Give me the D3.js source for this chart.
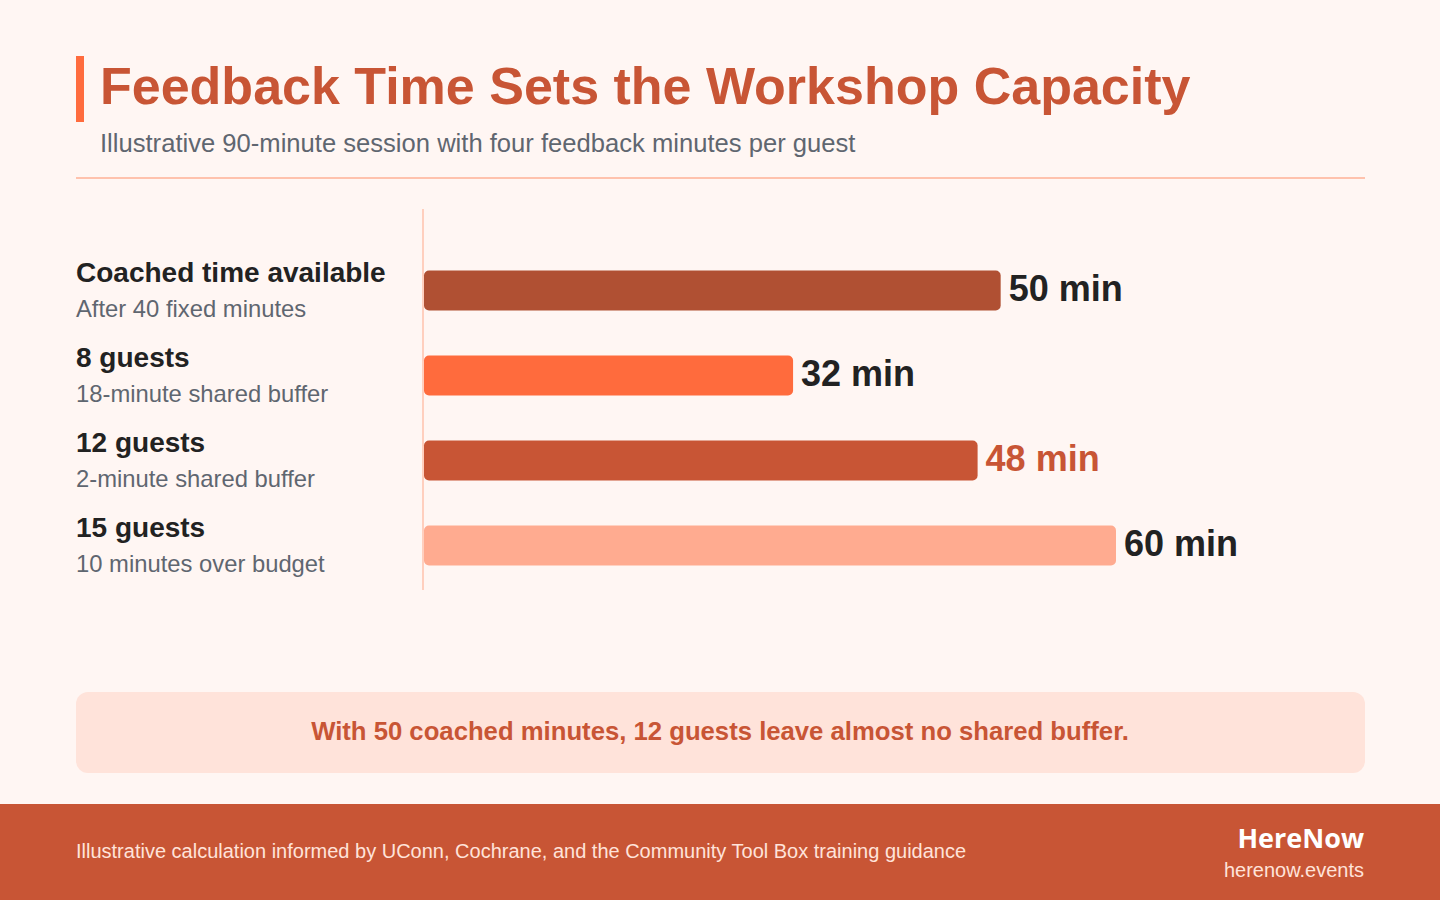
<!DOCTYPE html>
<html>
<head>
<meta charset="utf-8">
<script src="https://cdn.jsdelivr.net/npm/d3@7"></script>
<style>
  body { margin: 0; background: #fff6f3; }
  svg { display: block; font-family: "Liberation Sans", Arial, sans-serif; }
</style>
</head>
<body>
<svg id="chart" width="1440" height="900"></svg>
<script>
// ---------- data ----------
const labels = ["Coached time available", "8 guests", "12 guests", "15 guests"];
const sublabels = ["After 40 fixed minutes", "18-minute shared buffer", "2-minute shared buffer", "10 minutes over budget"];
const minutes = [50, 32, 48, 60];
const barColors = ["#b05033", "#ff6b3d", "#c85535", "#ffab90"];
const valueColors = ["#222222", "#222222", "#c85535", "#222222"];

const svg = d3.select("#chart");

svg.append("rect").attr("width", 1440).attr("height", 900).attr("fill", "#fff6f3");

// ---------- header ----------
svg.append("rect").attr("x", 76).attr("y", 56).attr("width", 8).attr("height", 66).attr("fill", "#ff6b3d");
svg.append("text").attr("x", 100).attr("y", 104)
  .attr("font-size", 52).attr("font-weight", 700).attr("fill", "#c85535")
  .text("Feedback Time Sets the Workshop Capacity");
svg.append("text").attr("x", 100).attr("y", 152)
  .attr("font-size", 25.6).attr("fill", "#5f6670")
  .text("Illustrative 90-minute session with four feedback minutes per guest");
svg.append("line").attr("x1", 76).attr("x2", 1365).attr("y1", 178).attr("y2", 178)
  .attr("stroke", "#ffc2ad").attr("stroke-width", 2);

// ---------- bars ----------
const x = d3.scaleLinear().domain([0, 60]).range([424, 1116]);
const y = d3.scaleBand().domain(labels).range([248, 588]).paddingInner(0.53).paddingOuter(0.265);

svg.append("line").attr("x1", 423).attr("x2", 423).attr("y1", 209).attr("y2", 590)
  .attr("stroke", "#ffc2ad").attr("stroke-width", 1.5);

const row = svg.append("g").selectAll("g").data(labels).join("g");

row.append("rect")
  .attr("x", x(0))
  .attr("y", d => y(d))
  .attr("width", (d, i) => x(minutes[i]) - x(0))
  .attr("height", y.bandwidth())
  .attr("rx", 5)
  .attr("fill", (d, i) => barColors[i]);

row.append("text")
  .attr("x", (d, i) => x(minutes[i]) + 8)
  .attr("y", d => y(d) + y.bandwidth() / 2 + 10)
  .attr("font-size", 36).attr("font-weight", 700)
  .attr("fill", (d, i) => valueColors[i])
  .text((d, i) => minutes[i] + " min");

row.append("text")
  .attr("x", 76)
  .attr("y", d => y(d) + y.bandwidth() / 2 - 9)
  .attr("font-size", 28).attr("font-weight", 700).attr("fill", "#222")
  .text(d => d);

row.append("text")
  .attr("x", 76)
  .attr("y", d => y(d) + y.bandwidth() / 2 + 26)
  .attr("font-size", 23.8).attr("fill", "#5f6670")
  .text((d, i) => sublabels[i]);

// ---------- callout ----------
svg.append("rect").attr("x", 76).attr("y", 692).attr("width", 1289).attr("height", 81)
  .attr("rx", 12).attr("fill", "#ffe3da");
svg.append("text").attr("x", 720).attr("y", 740).attr("text-anchor", "middle")
  .attr("font-size", 25.7).attr("font-weight", 700).attr("fill", "#c85535")
  .text("With 50 coached minutes, 12 guests leave almost no shared buffer.");

// ---------- footer ----------
svg.append("rect").attr("y", 804).attr("width", 1440).attr("height", 96).attr("fill", "#c85535");
svg.append("text").attr("x", 76).attr("y", 858)
  .attr("font-size", 20).attr("fill", "#ffe3da")
  .text("Illustrative calculation informed by UConn, Cochrane, and the Community Tool Box training guidance");
svg.append("text").attr("x", 1364).attr("y", 848).attr("text-anchor", "end")
  .attr("font-family", "'Open Sans', sans-serif")
  .attr("font-size", 27).attr("font-weight", 700).attr("fill", "#ffffff")
  .text("HereNow");
svg.append("text").attr("x", 1364).attr("y", 877).attr("text-anchor", "end")
  .attr("font-size", 20).attr("fill", "#ffe3da")
  .text("herenow.events");
</script>
</body>
</html>
